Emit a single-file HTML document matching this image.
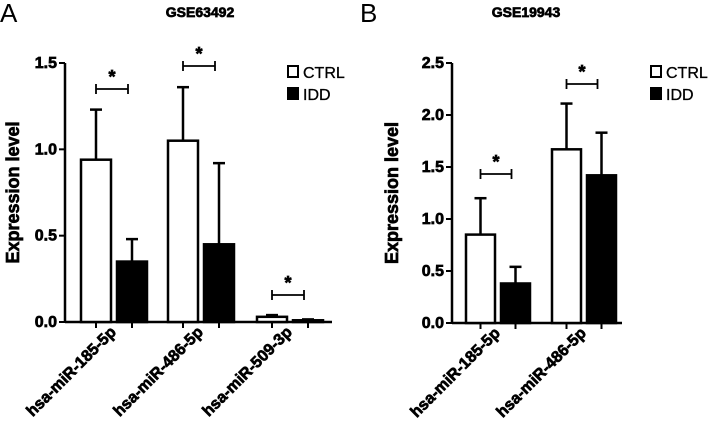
<!DOCTYPE html>
<html><head><meta charset="utf-8"><style>
body{margin:0;background:#fff}
svg{font-family:"Liberation Sans",Arial,sans-serif;display:block}
.b{font-weight:700;stroke:#000;stroke-width:0.7px}
</style></head><body>
<svg id="c" width="708" height="430" viewBox="0 0 708 430" xmlns="http://www.w3.org/2000/svg"></svg>
<script>
const catsA=["hsa-miR-185-5p","hsa-miR-486-5p","hsa-miR-509-3p"];
const ctrlA=[0.94,1.05,0.03];
const ctrlErrA=[0.29,0.31,0.01];
const iddA=[0.35,0.45,0.01];
const iddErrA=[0.13,0.47,0.005];
const ticksA=["0.0","0.5","1.0","1.5"];
const tickValsA=[0,0.5,1.0,1.5];
const catsB=["hsa-miR-185-5p","hsa-miR-486-5p"];
const ctrlB=[0.85,1.67];
const ctrlErrB=[0.35,0.44];
const iddB=[0.38,1.42];
const iddErrB=[0.16,0.41];
const ticksB=["0.0","0.5","1.0","1.5","2.0","2.5"];
const tickValsB=[0,0.5,1.0,1.5,2.0,2.5];

const NS="http://www.w3.org/2000/svg";
const svg=document.getElementById('c');
function el(tag,attrs,parent,text){const e=document.createElementNS(NS,tag);for(const k in attrs)e.setAttribute(k,attrs[k]);if(text!==undefined)e.textContent=text;(parent||svg).appendChild(e);return e;}

function panel(o){
  const g=el('g',{});
  
  
  const y=v=>o.y0-(v/o.max)*(o.y0-o.yTop);
  const lt=el('text',{x:o.letterX,y:22,'font-size':26},g,o.letter);
  
  
  const t=el('text',{x:o.titleX,y:17,'font-size':14,class:'b','text-anchor':'middle'},g,o.title);
  
  
  const yl=el('text',{x:0,y:0,'font-size':18,class:'b','text-anchor':'middle',transform:`translate(${o.ylx},${(o.y0+o.yTop)/2}) rotate(-90)`},g,'Expression level');
  
  
  el('line',{x1:o.ax,y1:o.yTop,x2:o.ax,y2:o.y0+1,stroke:'#000','stroke-width':2.5},g);
  el('line',{x1:o.ax,y1:o.y0,x2:o.axEnd,y2:o.y0,stroke:'#000','stroke-width':2.5},g);
  o.tickVals.forEach((v,i)=>{
    el('line',{x1:o.ax-6,y1:y(v),x2:o.ax,y2:y(v),stroke:'#000','stroke-width':2},g);
    const tl=el('text',{x:o.ax-8,y:y(v)+5,'font-size':16,class:'b','text-anchor':'end'},g,o.ticks[i]);
    
    
  });
  o.cats.forEach((c,i)=>{
    const gc=o.centers[i];
    const cx=[gc-o.off,gc+o.off];
    const vals=[o.ctrl[i],o.idd[i]], errs=[o.ctrlErr[i],o.iddErr[i]];
    [0,1].forEach(k=>{
      const h=o.y0-y(vals[k]);
      const r=el('rect',{x:cx[k]-o.bw/2,y:y(vals[k]),width:o.bw,height:Math.max(h,0.5),fill:k?'#000':'#fff',stroke:'#000','stroke-width':2.5},g);
      
      
      const top=y(vals[k]+errs[k]);
      el('line',{x1:cx[k],y1:y(vals[k]),x2:cx[k],y2:top,stroke:'#000','stroke-width':2.5},g);
      el('line',{x1:cx[k]-6,y1:top,x2:cx[k]+6,y2:top,stroke:'#000','stroke-width':2.5},g);
      el('line',{x1:cx[k],y1:o.y0,x2:cx[k],y2:o.y0+6,stroke:'#000','stroke-width':2},g);
    });
    const xl=el('text',{x:0,y:0,'font-size':16,class:'b','text-anchor':'end',transform:`translate(${gc+3},${o.y0+11}) rotate(-45)`},g,c);
    
    
    const by=o.brY[i];
    const br=el('g',{},g);
    
    
    el('line',{x1:cx[0],y1:by,x2:cx[1]-4,y2:by,stroke:'#000','stroke-width':1.8},br);
    el('line',{x1:cx[0],y1:by-5,x2:cx[0],y2:by+5,stroke:'#000','stroke-width':1.8},br);
    el('line',{x1:cx[1]-4,y1:by-5,x2:cx[1]-4,y2:by+5,stroke:'#000','stroke-width':1.8},br);
    el('text',{x:gc-2,y:by-6,'font-size':18,class:'b','text-anchor':'middle'},br,'*');
  });
  [['CTRL','#fff',66],['IDD','#000',88]].forEach(([n,f,ly])=>{
    const lg=el('g',{},g);
    
    
    el('rect',{x:o.legX,y:ly,width:10,height:11,fill:f,stroke:'#000','stroke-width':2},lg);
    el('text',{x:o.legX+15,y:ly+12,'font-size':16,stroke:'#000','stroke-width':0.3},lg,n);
  });
}
panel({name:'panel-a',letter:'A',letterX:0,title:'GSE63492',titleX:200,ylx:19,ax:65,axEnd:332,y0:322,yTop:63,max:1.5,
  ticks:ticksA,tickVals:tickValsA,cats:catsA,ctrl:ctrlA,ctrlErr:ctrlErrA,idd:iddA,iddErr:iddErrA,
  centers:[114,201,290],off:18,bw:30,brY:[89,66,295],legX:288});
panel({name:'panel-b',letter:'B',letterX:360,title:'GSE19943',titleX:526,ylx:398,ax:452,axEnd:622,y0:323,yTop:63,max:2.5,
  ticks:ticksB,tickVals:tickValsB,cats:catsB,ctrl:ctrlB,ctrlErr:ctrlErrB,idd:iddB,iddErr:iddErrB,
  centers:[498,584],off:17.5,bw:29,brY:[174,84],legX:651});
</script>
</body></html>
